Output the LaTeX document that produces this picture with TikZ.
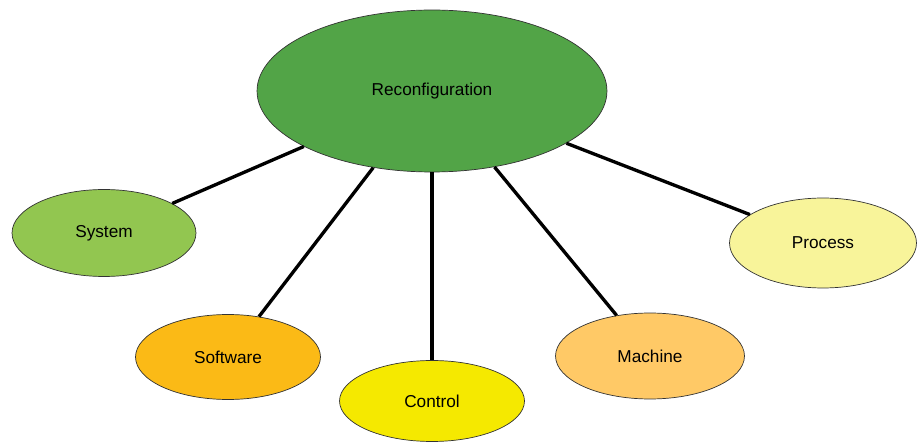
\documentclass[tikz,border=0pt]{standalone}
\usepackage{fontspec}
\setmainfont{Liberation Sans}
\usetikzlibrary{shapes.geometric}

\definecolor{reconfgreen}{HTML}{52A447}
\definecolor{systemgreen}{HTML}{92C650}
\definecolor{softorange}{HTML}{FBBA16}
\definecolor{ctrlyellow}{HTML}{F5E900}
\definecolor{machorange}{HTML}{FFC966}
\definecolor{procyellow}{HTML}{F8F49A}

\begin{document}
\begin{tikzpicture}[x=0.02cm, y=-0.02cm,
    every node/.style={font=\fontsize{9.8}{12}\selectfont},
    topic/.style={ellipse, draw=black!80, line width=0.4pt, inner sep=0pt},
    link/.style={line width=1.9pt}]
    \useasboundingbox (0,0) rectangle (917,442);

    % Nodes {reconf, system, software, control, machine, process}
    \node [topic, fill=reconfgreen, minimum width=7cm, minimum height=3.24cm]    (reconf)   at (432,91)  {Reconfiguration};
    \node [topic, fill=systemgreen, minimum width=3.68cm, minimum height=1.74cm] (system)   at (104,233) {System};
    \node [topic, fill=softorange, minimum width=3.7cm, minimum height=1.7cm]    (software) at (228,357) {Software};
    \node [topic, fill=ctrlyellow, minimum width=3.7cm, minimum height=1.62cm]   (control)  at (432,401) {Control};
    \node [topic, fill=machorange, minimum width=3.78cm, minimum height=1.72cm]  (machine)  at (650,356) {Machine};
    \node [topic, fill=procyellow, minimum width=3.74cm, minimum height=1.8cm]   (process)  at (823,243) {Process};

    % Paths
    \path [link] (reconf) edge (system);
    \path [link] (reconf) edge (software);
    \path [link] (reconf) edge (control);
    \path [link] (reconf) edge (machine);
    \path [link] (reconf) edge (process);

\end{tikzpicture}
\end{document}
